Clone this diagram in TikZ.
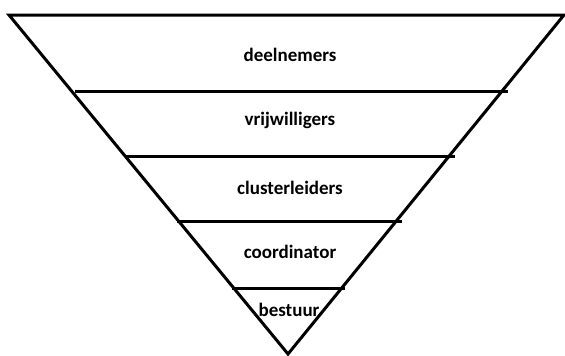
\documentclass[tikz,border=0pt]{standalone}
\usepackage{fontspec}
\setmainfont{Carlito}
\begin{document}
\begin{tikzpicture}[x=1pt,y=-1pt,
  edge/.style={line width=3pt,line join=miter,line cap=butt},
  lbl/.style={font=\bfseries\fontsize{19}{22}\selectfont,inner sep=0pt}]
\useasboundingbox (0,0) rectangle (565,356);
\coordinate (tl) at (9,15);
\coordinate (tr) at (564,15);
\coordinate (ap) at (288,354);
\draw[edge] (tl) -- (tr) -- (ap) -- cycle;
\coordinate (a1) at (75,91);   \coordinate (b1) at (508,91);
\coordinate (a2) at (125,156); \coordinate (b2) at (455,156);
\coordinate (a3) at (177,221); \coordinate (b3) at (402,221);
\coordinate (a4) at (232,288); \coordinate (b4) at (345,288);
\draw[edge] (a1) -- (b1);
\draw[edge] (a2) -- (b2);
\draw[edge] (a3) -- (b3);
\draw[edge] (a4) -- (b4);
\node[lbl] (t1) at (290,55) {deelnemers};
\node[lbl] (t2) at (290,120) {vrijwilligers};
\node[lbl] (t3) at (290,188) {clusterleiders};
\node[lbl] (t4) at (290,252) {coordinator};
\node[lbl] (t5) at (289,310) {bestuur};
\end{tikzpicture}
\end{document}
